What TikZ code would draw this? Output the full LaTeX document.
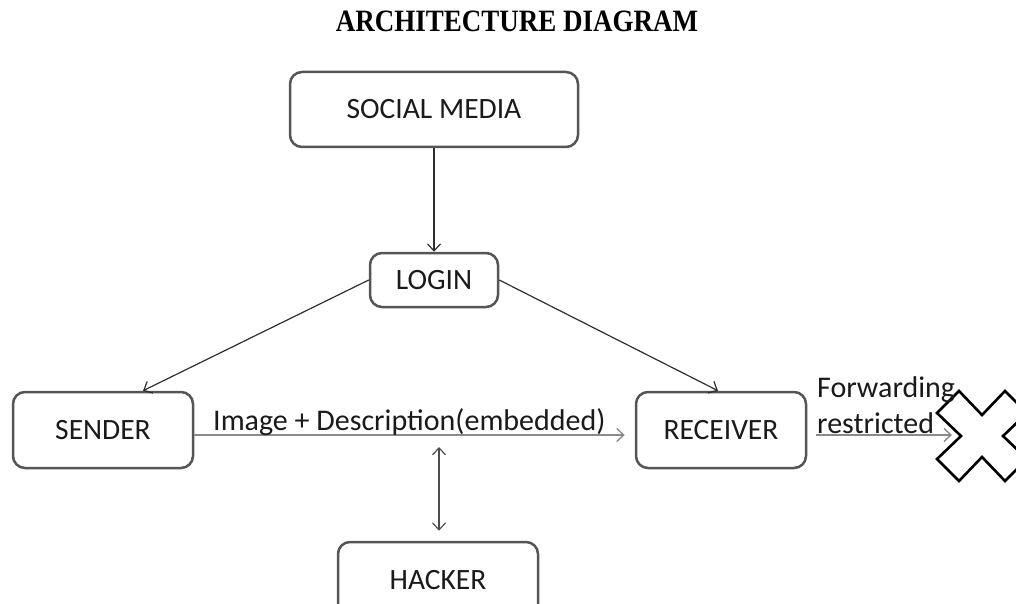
\documentclass[tikz,border=0pt]{standalone}
\usepackage{fontspec}
\setmainfont{Carlito}
\newfontfamily\titlefont{Liberation Serif}
\usetikzlibrary{arrows.meta}
\definecolor{boxline}{HTML}{555555}
\definecolor{darkline}{HTML}{2E2E2E}
\definecolor{lightline}{HTML}{8A8A8A}
\definecolor{ink}{HTML}{1A1A1A}
\tikzset{
  block/.style={draw=boxline, line width=2.5pt, rounded corners=12pt, fill=white,
    text=ink, font=\fontsize{29.5}{34}\selectfont, inner sep=0pt},
  darkarrow/.style={draw=darkline, line width=1.2pt,
    -{Straight Barb[length=7pt,width=13pt,line width=1.2pt]}},
  lightarrow/.style={draw=lightline, line width=1.7pt,
    -{Straight Barb[length=7pt,width=13pt,line width=1.4pt]}},
  bothways/.style={draw=darkline!85!white, line width=1.3pt,
    {Straight Barb[length=7pt,width=13pt,line width=1.2pt]}-{Straight Barb[length=7pt,width=13pt,line width=1.2pt]}},
  label/.style={text=ink, font=\fontsize{30}{34}\selectfont, inner sep=0pt},
}
\begin{document}
\begin{tikzpicture}[x=1pt, y=-1pt]
  \useasboundingbox (0,0) rectangle (1016,604);
  \clip (0,0) rectangle (1016,604);

  % heading
  \node[inner sep=0pt, anchor=base, font=\titlefont\bfseries\fontsize{27}{30}\selectfont]
    (title) at (517,32) {\scalebox{1}[1.15]{ARCHITECTURE DIAGRAM}};

  % boxes
  \node[block, minimum width=288pt, minimum height=75pt] (sm) at (434,109.5) {SOCIAL MEDIA};
  \node[block, minimum width=128pt, minimum height=54pt] (login) at (434,280) {LOGIN};
  \node[block, minimum width=180pt, minimum height=76pt] (sender) at (103,430) {SENDER};
  \node[block, minimum width=170pt, minimum height=76pt] (receiver) at (721,430) {RECEIVER};
  \node[block, minimum width=200pt, minimum height=76pt] (hacker) at (438,580) {HACKER};

  % forwarding blocked mark
  \coordinate (xc) at (982,436);
  \coordinate (xtip) at (952,435);
  \draw[black, line width=2.6pt, line join=miter, fill=white, shift={(xc)}]
    (0,-21) -- (23,-45) -- (45,-23) -- (21,0) -- (45,23) -- (23,45) -- (0,21)
    -- (-23,45) -- (-45,23) -- (-21,0) -- (-45,-23) -- (-23,-45) -- cycle;

  % connectors
  \draw[darkarrow] (sm.south) -- (login.north);
  \draw[darkarrow] (login.west) -- ([xshift=40pt]sender.north);
  \draw[darkarrow] (login.east) -- ([xshift=-3pt]receiver.north);
  \draw[lightarrow] ([yshift=-5pt]sender.east) -- ([xshift=-10pt,yshift=-5pt]receiver.west);
  \coordinate (tap) at (439,447);
  \draw[bothways] (tap) -- ([xshift=1pt,yshift=10pt]hacker.north);
  \draw[lightarrow] ([xshift=9pt,yshift=-5pt]receiver.east) -- (xtip);

  % connector labels
  \node[label, anchor=base west] (msg) at (213,430) {Image + Description(embedded)};
  \node[label, anchor=base west] (fwd1) at (817,397) {Forwarding};
  \node[label, anchor=base west] (fwd2) at (817,433) {restricted};
\end{tikzpicture}
\end{document}
